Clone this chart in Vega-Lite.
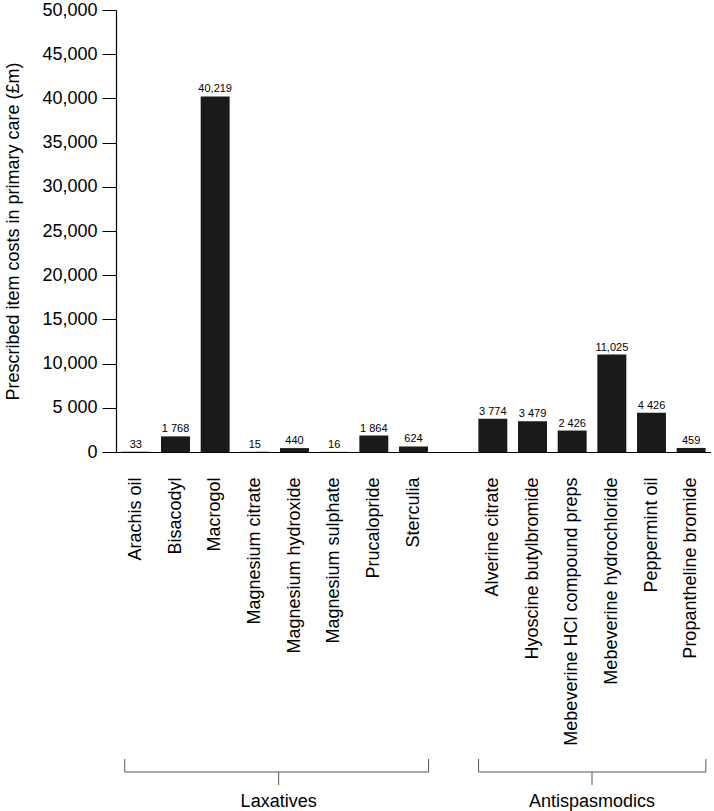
{
  "$schema": "https://vega.github.io/schema/vega-lite/v6.json",
  "background": "white",
  "padding": {"left": 4, "top": 1, "right": 0, "bottom": 0},
  "config": {
    "font": "Liberation Sans",
    "view": {"stroke": null},
    "concat": {"spacing": 11}
  },
  "datasets": {
    "costs": [
      {"drug": "Arachis oil", "group": "Laxatives", "cost": 33, "label": "33"},
      {"drug": "Bisacodyl", "group": "Laxatives", "cost": 1768, "label": "1 768"},
      {"drug": "Macrogol", "group": "Laxatives", "cost": 40219, "label": "40,219"},
      {"drug": "Magnesium citrate", "group": "Laxatives", "cost": 15, "label": "15"},
      {"drug": "Magnesium hydroxide", "group": "Laxatives", "cost": 440, "label": "440"},
      {"drug": "Magnesium sulphate", "group": "Laxatives", "cost": 16, "label": "16"},
      {"drug": "Prucalopride", "group": "Laxatives", "cost": 1864, "label": "1 864"},
      {"drug": "Sterculia", "group": "Laxatives", "cost": 624, "label": "624"},
      {"drug": "Alverine citrate", "group": "Antispasmodics", "cost": 3774, "label": "3 774"},
      {"drug": "Hyoscine butylbromide", "group": "Antispasmodics", "cost": 3479, "label": "3 479"},
      {"drug": "Mebeverine HCl compound preps", "group": "Antispasmodics", "cost": 2426, "label": "2 426"},
      {"drug": "Mebeverine hydrochloride", "group": "Antispasmodics", "cost": 11025, "label": "11,025"},
      {"drug": "Peppermint oil", "group": "Antispasmodics", "cost": 4426, "label": "4 426"},
      {"drug": "Propantheline bromide", "group": "Antispasmodics", "cost": 459, "label": "459"}
    ],
    "groups": [
      {"group": "Laxatives", "start": 0.22, "end": 7.88, "mid": 4.1},
      {"group": "Antispasmodics", "start": 9.14, "end": 14.87, "mid": 12.0}
    ]
  },
  "vconcat": [
    {
      "width": 595,
      "height": 442,
      "data": {"name": "costs"},
      "encoding": {
        "x": {
          "field": "drug",
          "type": "nominal",
          "scale": {
            "domain": ["Arachis oil", "Bisacodyl", "Macrogol", "Magnesium citrate", "Magnesium hydroxide", "Magnesium sulphate", "Prucalopride", "Sterculia", " ", "Alverine citrate", "Hyoscine butylbromide", "Mebeverine HCl compound preps", "Mebeverine hydrochloride", "Peppermint oil", "Propantheline bromide"],
            "paddingInner": 0.27,
            "paddingOuter": 0.135
          },
          "axis": {
            "title": null,
            "labelAngle": -90,
            "labelFontSize": 18,
            "labelColor": "black",
            "labelPadding": 25,
            "labelLimit": 0,
            "ticks": false,
            "domainColor": "black",
            "domainWidth": 1.2,
            "labelOverlap": false
          }
        },
        "y": {
          "field": "cost",
          "type": "quantitative",
          "scale": {"domain": [0, 50000], "nice": false},
          "axis": {
            "title": "Prescribed item costs in primary care (£m)",
            "titleFontSize": 18,
            "titleFontWeight": "normal",
            "titleColor": "black",
            "titlePadding": 19,
            "values": [0, 5000, 10000, 15000, 20000, 25000, 30000, 35000, 40000, 45000, 50000],
            "labelExpr": "datum.value == 5000 ? '5 000' : format(datum.value, ',')",
            "labelFontSize": 18,
            "labelColor": "black",
            "labelPadding": 5,
            "tickSize": 14,
            "tickColor": "black",
            "domainColor": "black",
            "domainWidth": 1.2,
            "grid": false
          }
        }
      },
      "layer": [
        {"mark": {"type": "bar", "color": "#1a1a1a"}},
        {
          "mark": {"type": "text", "fontSize": 11, "baseline": "alphabetic", "dy": -4, "color": "black"},
          "encoding": {"text": {"field": "label"}}
        }
      ]
    },
    {
      "width": 595,
      "height": 48,
      "data": {"name": "groups"},
      "layer": [
        {
          "mark": {"type": "rule", "color": "#555555", "strokeWidth": 1},
          "encoding": {
            "x": {"field": "start", "type": "quantitative", "scale": {"domain": [0, 15], "nice": false}, "axis": null},
            "x2": {"field": "end"},
            "y": {"datum": 33, "type": "quantitative", "scale": {"domain": [0, 48], "nice": false}, "axis": null}
          }
        },
        {
          "mark": {"type": "rule", "color": "#555555", "strokeWidth": 1},
          "encoding": {
            "x": {"field": "start", "type": "quantitative"},
            "y": {"datum": 33, "type": "quantitative"},
            "y2": {"datum": 46}
          }
        },
        {
          "mark": {"type": "rule", "color": "#555555", "strokeWidth": 1},
          "encoding": {
            "x": {"field": "end", "type": "quantitative"},
            "y": {"datum": 33, "type": "quantitative"},
            "y2": {"datum": 46}
          }
        },
        {
          "mark": {"type": "rule", "color": "#555555", "strokeWidth": 1},
          "encoding": {
            "x": {"field": "mid", "type": "quantitative"},
            "y": {"datum": 33, "type": "quantitative"},
            "y2": {"datum": 20}
          }
        },
        {
          "mark": {"type": "text", "fontSize": 18, "baseline": "alphabetic", "dy": 2, "color": "black"},
          "encoding": {
            "x": {"field": "mid", "type": "quantitative"},
            "y": {"datum": 0, "type": "quantitative"},
            "text": {"field": "group"}
          }
        }
      ]
    }
  ]
}
